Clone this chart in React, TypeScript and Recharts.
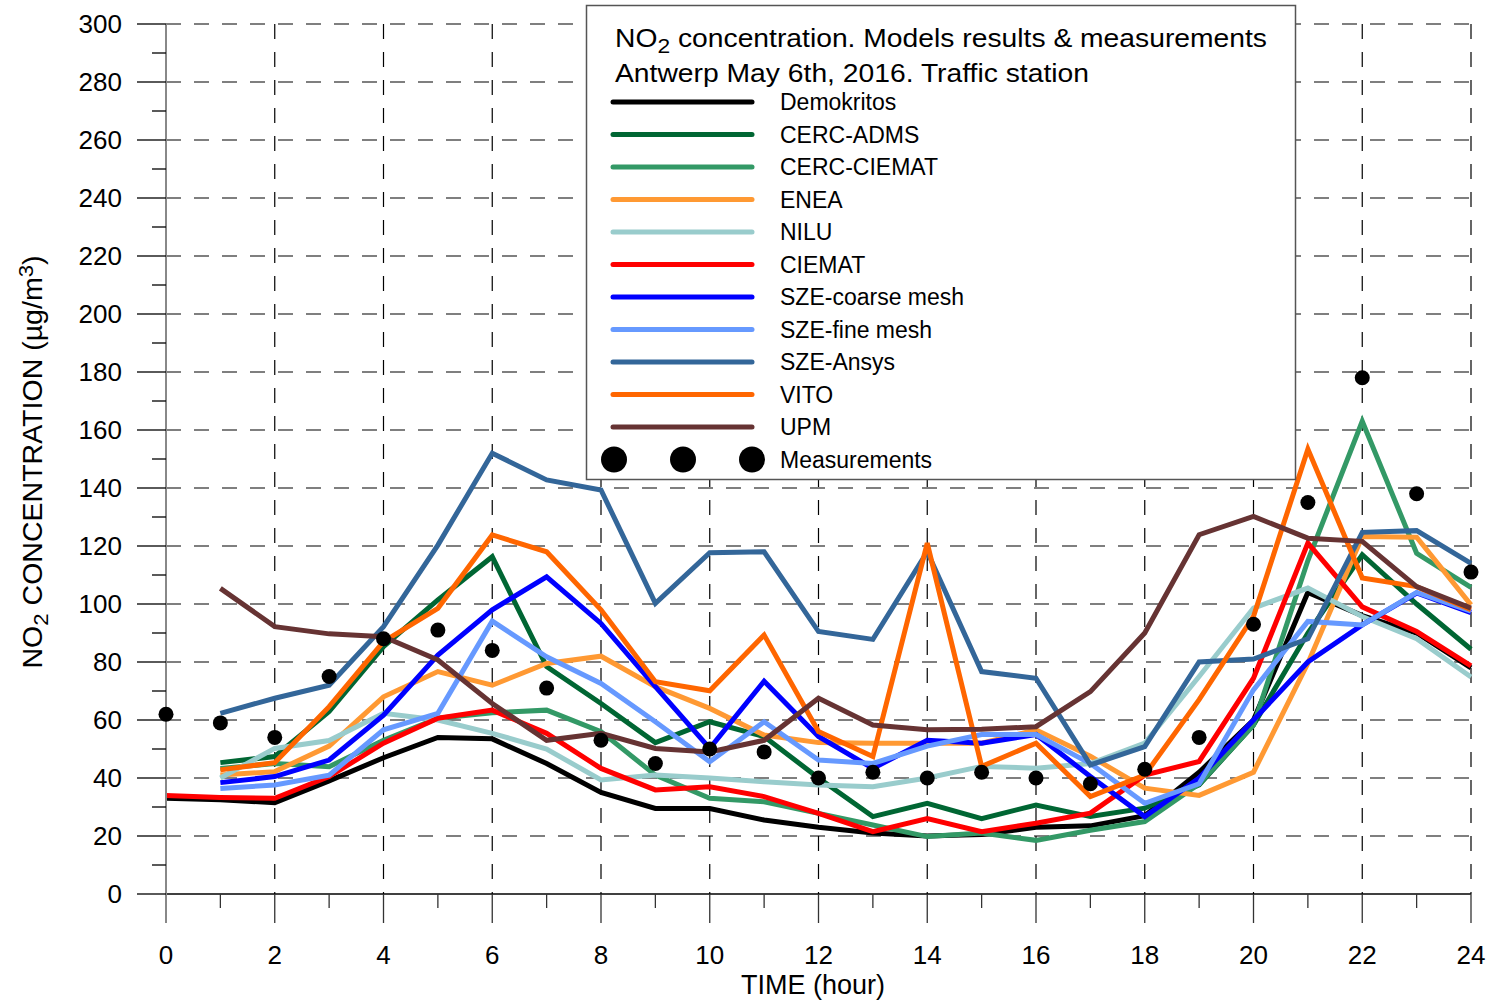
import React from "react";
import { LineChart, Line, XAxis, YAxis, CartesianGrid } from "recharts";

const hours = [0, 1, 2, 3, 4, 5, 6, 7, 8, 9, 10, 11, 12, 13, 14, 15, 16, 17, 18, 19, 20, 21, 22, 23, 24];
const yTicks = [0, 10, 20, 30, 40, 50, 60, 70, 80, 90, 100, 110, 120, 130, 140, 150, 160, 170, 180, 190, 200, 210, 220, 230, 240, 250, 260, 270, 280, 290, 300];
const yGrid = [20, 40, 60, 80, 100, 120, 140, 160, 180, 200, 220, 240, 260, 280, 300];
const xGrid = [2, 4, 6, 8, 10, 12, 14, 16, 18, 20, 22, 24];

const demokritos = [33, 32.5, 31.5, 39, 47, 54, 53.5, 45, 35, 29.5, 29.5, 25.5, 23, 21, 20, 20.5, 23, 23.5, 27, 42, 60, 104, 96, 90, 78];
const cercAdms = [null, 45.3, 47.4, 62.9, 85.3, 101.4, 116.3, 78.4, 65.7, 52.2, 59.4, 54.3, 40, 26.7, 31.3, 26, 30.7, 26.7, 29.6, 37.6, 58.3, 90, 117, 100, 84.4];
const cercCiemat = [null, 43.3, 45, 43.9, 53, 60.6, 62.5, 63.4, 56, 41, 33, 31.8, 27.8, 23.8, 19.8, 21, 18.5, 22, 25, 38, 58.3, 115, 163, 117.5, 105.7];
const enea = [null, 41, 42.2, 51, 68, 76.7, 72, 79.5, 82, 71.5, 64, 54.8, 52.2, 52, 52, 52, 56.6, 47.5, 36.5, 34, 42, 79.6, 123.3, 123, 99.7];
const nilu = [null, 40, 50.2, 52.9, 62.3, 60, 55.4, 50, 39.3, 41, 40, 38.7, 37.6, 37, 40, 44, 43.4, 45, 52, 75, 98.6, 105.5, 95.7, 88, 74.8];
const ciemat = [34, 33.3, 33, 40.5, 52, 60.6, 63.4, 55.4, 43.3, 35.9, 37, 33.6, 27.8, 21.5, 26, 21.5, 24.4, 27.9, 41, 45.7, 74.4, 121, 99, 90.5, 78.7];
const szeCoarse = [null, 38.4, 40.5, 46.2, 61.7, 82.4, 98, 109.4, 93.3, 71.5, 50.2, 73.4, 54.3, 43.3, 53, 52, 55, 40.5, 26.7, 40, 60, 80, 92.8, 103.8, 97];
const szeFine = [null, 36.4, 37.6, 41, 56.6, 62.3, 94.1, 81.8, 72.6, 59.4, 45.6, 59.4, 46.2, 45, 51, 55, 55, 45, 31.3, 38, 70.4, 94, 92.8, 104, 97.5];
const szeAnsys = [null, 62.3, 67.5, 72, 92.2, 120.3, 152, 142.8, 139.3, 100.2, 117.7, 118, 90.5, 87.8, 118, 76.7, 74.4, 44.5, 50.8, 80, 81, 88, 124.7, 125.3, 114];
const vito = [null, 42.8, 45.3, 64.6, 87, 98.5, 123.8, 118, 98, 73.2, 70.1, 89.3, 56, 47.4, 121, 44, 52, 33.6, 41, 67, 95.7, 153.4, 109, 106, 98];
const upm = [null, 105.4, 92.2, 89.7, 88.7, 80.7, 65.7, 53, 55.4, 50.2, 49, 53, 67.5, 58.3, 56.6, 56.8, 57.7, 69.8, 90, 123.9, 130.2, 122.7, 121.6, 106, 98.6];
const measurements = [62, 59, 54, 75, 88, 91, 84, 71, 53, 45, 50, 49, 40, 42, 40, 42, 40, 38, 43, 54, 93, 135, 178, 138, 111];

const series = [
  { key: "demokritos", name: "Demokritos", color: "#000000", values: demokritos },
  { key: "cercAdms", name: "CERC-ADMS", color: "#006633", values: cercAdms },
  { key: "cercCiemat", name: "CERC-CIEMAT", color: "#339966", values: cercCiemat },
  { key: "enea", name: "ENEA", color: "#FF9933", values: enea },
  { key: "nilu", name: "NILU", color: "#99CCCC", values: nilu },
  { key: "ciemat", name: "CIEMAT", color: "#FF0000", values: ciemat },
  { key: "szeCoarse", name: "SZE-coarse mesh", color: "#0000FF", values: szeCoarse },
  { key: "szeFine", name: "SZE-fine mesh", color: "#6699FF", values: szeFine },
  { key: "szeAnsys", name: "SZE-Ansys", color: "#336699", values: szeAnsys },
  { key: "vito", name: "VITO", color: "#FF6600", values: vito },
  { key: "upm", name: "UPM", color: "#663333", values: upm },
];

const rows = hours.map((h, i) => {
  const row: Record<string, number | null> = { hour: h, meas: measurements[i] };
  series.forEach((s) => {
    row[s.key] = s.values[i];
  });
  return row;
});

const FONT = '"Liberation Sans", Arial, Helvetica, sans-serif';

const XTick = (props: any) => {
  const { x, y, payload } = props;
  const major = payload.value % 2 === 0;
  return (
    <g>
      <line
        x1={x}
        x2={x}
        y1={y}
        y2={y + (major ? 29 : 14)}
        stroke={payload.value === 0 ? "#888" : "#333"}
        strokeWidth={payload.value === 0 ? 2 : 1.3}
      />
      {major && (
        <text x={x} y={y + 61} textAnchor="middle" dominantBaseline="central" fontSize={26} fontFamily={FONT} fill="#000">
          {payload.value}
        </text>
      )}
    </g>
  );
};

const YTick = (props: any) => {
  const { x, y, payload } = props;
  const major = payload.value % 20 === 0;
  return (
    <g>
      <line x1={x - (major ? 29 : 14)} x2={x} y1={y} y2={y} stroke="#000" strokeWidth={1.3} />
      {major && (
        <text x={x - 44} y={y} textAnchor="end" dominantBaseline="central" fontSize={26} fontFamily={FONT} fill="#000">
          {payload.value}
        </text>
      )}
    </g>
  );
};

function LegendBox() {
  const left = 586;
  const top = 5;
  return (
    <g fontFamily={FONT}>
      <rect x={left + 0.5} y={top + 0.5} width={709} height={474} fill="#fff" stroke="#555" strokeWidth={1.5} />
      <text x={left + 29} y={top + 42} fontSize={26} textLength={652} lengthAdjust="spacingAndGlyphs">
        NO<tspan dy={6} fontSize={21}>2</tspan>
        <tspan dy={-6}> concentration. Models results &amp; measurements</tspan>
      </text>
      <text x={left + 29} y={top + 77} fontSize={26} textLength={474} lengthAdjust="spacingAndGlyphs">
        Antwerp May 6th, 2016. Traffic station
      </text>
      {series.map((s, i) => {
        const cy = top + 97 + i * 32.5;
        return (
          <g key={s.key}>
            <line x1={left + 27} x2={left + 166} y1={cy} y2={cy} stroke={s.color} strokeWidth={5} strokeLinecap="round" />
            <text x={left + 194} y={cy} fontSize={23} dominantBaseline="central">
              {s.name}
            </text>
          </g>
        );
      })}
      {[28, 97, 166].map((dx) => (
        <circle key={dx} cx={left + dx} cy={top + 97 + 11 * 32.5} r={13} fill="#000" />
      ))}
      <text x={left + 194} y={top + 97 + 11 * 32.5} fontSize={23} dominantBaseline="central">
        Measurements
      </text>
    </g>
  );
}

export default function App() {
  return (
    <div style={{ position: "absolute", left: 0, top: 0, width: 1491, height: 1004, background: "#fff" }}>
      <LineChart width={1491} height={1004} data={rows} margin={{ top: 24, right: 20, left: 0, bottom: 50 }}>
        <CartesianGrid
          horizontalValues={yGrid}
          verticalValues={xGrid}
          stroke="#000"
          strokeWidth={1.2}
          strokeDasharray="15 13"
        />
        <XAxis
          dataKey="hour"
          type="number"
          domain={[0, 24]}
          ticks={hours}
          interval={0}
          height={60}
          tickSize={0}
          tickMargin={0}
          tickLine={false}
          tick={<XTick />}
          axisLine={{ stroke: "#000", strokeWidth: 1.5 }}
        />
        <YAxis
          type="number"
          domain={[0, 300]}
          ticks={yTicks}
          interval={0}
          width={166}
          tickSize={0}
          tickMargin={0}
          tickLine={false}
          tick={<YTick />}
          axisLine={{ stroke: "#888", strokeWidth: 2 }}
        />
        {series.map((s) => (
          <Line
            key={s.key}
            dataKey={s.key}
            name={s.name}
            type="linear"
            stroke={s.color}
            strokeWidth={5}
            dot={false}
            activeDot={false}
            connectNulls={false}
            isAnimationActive={false}
          />
        ))}
        <Line
          dataKey="meas"
          name="Measurements"
          type="linear"
          stroke="none"
          strokeWidth={0}
          dot={{ r: 7.5, fill: "#000", stroke: "none" }}
          activeDot={false}
          isAnimationActive={false}
        />
      </LineChart>
      <svg
        width={1491}
        height={1004}
        style={{ position: "absolute", left: 0, top: 0, pointerEvents: "none" }}
      >
        <LegendBox />
        <text
          transform="translate(42, 462) rotate(-90)"
          textAnchor="middle"
          fontSize={27}
          fontFamily={FONT}
          textLength={413}
          lengthAdjust="spacingAndGlyphs"
        >
          NO<tspan dy={6} fontSize={21}>2</tspan>
          <tspan dy={-6}> CONCENTRATION (µg/m</tspan>
          <tspan dy={-9} fontSize={21}>3</tspan>
          <tspan dy={9}>)</tspan>
        </text>
        <text x={813} y={994} textAnchor="middle" fontSize={27} fontFamily={FONT}>
          TIME (hour)
        </text>
      </svg>
    </div>
  );
}
